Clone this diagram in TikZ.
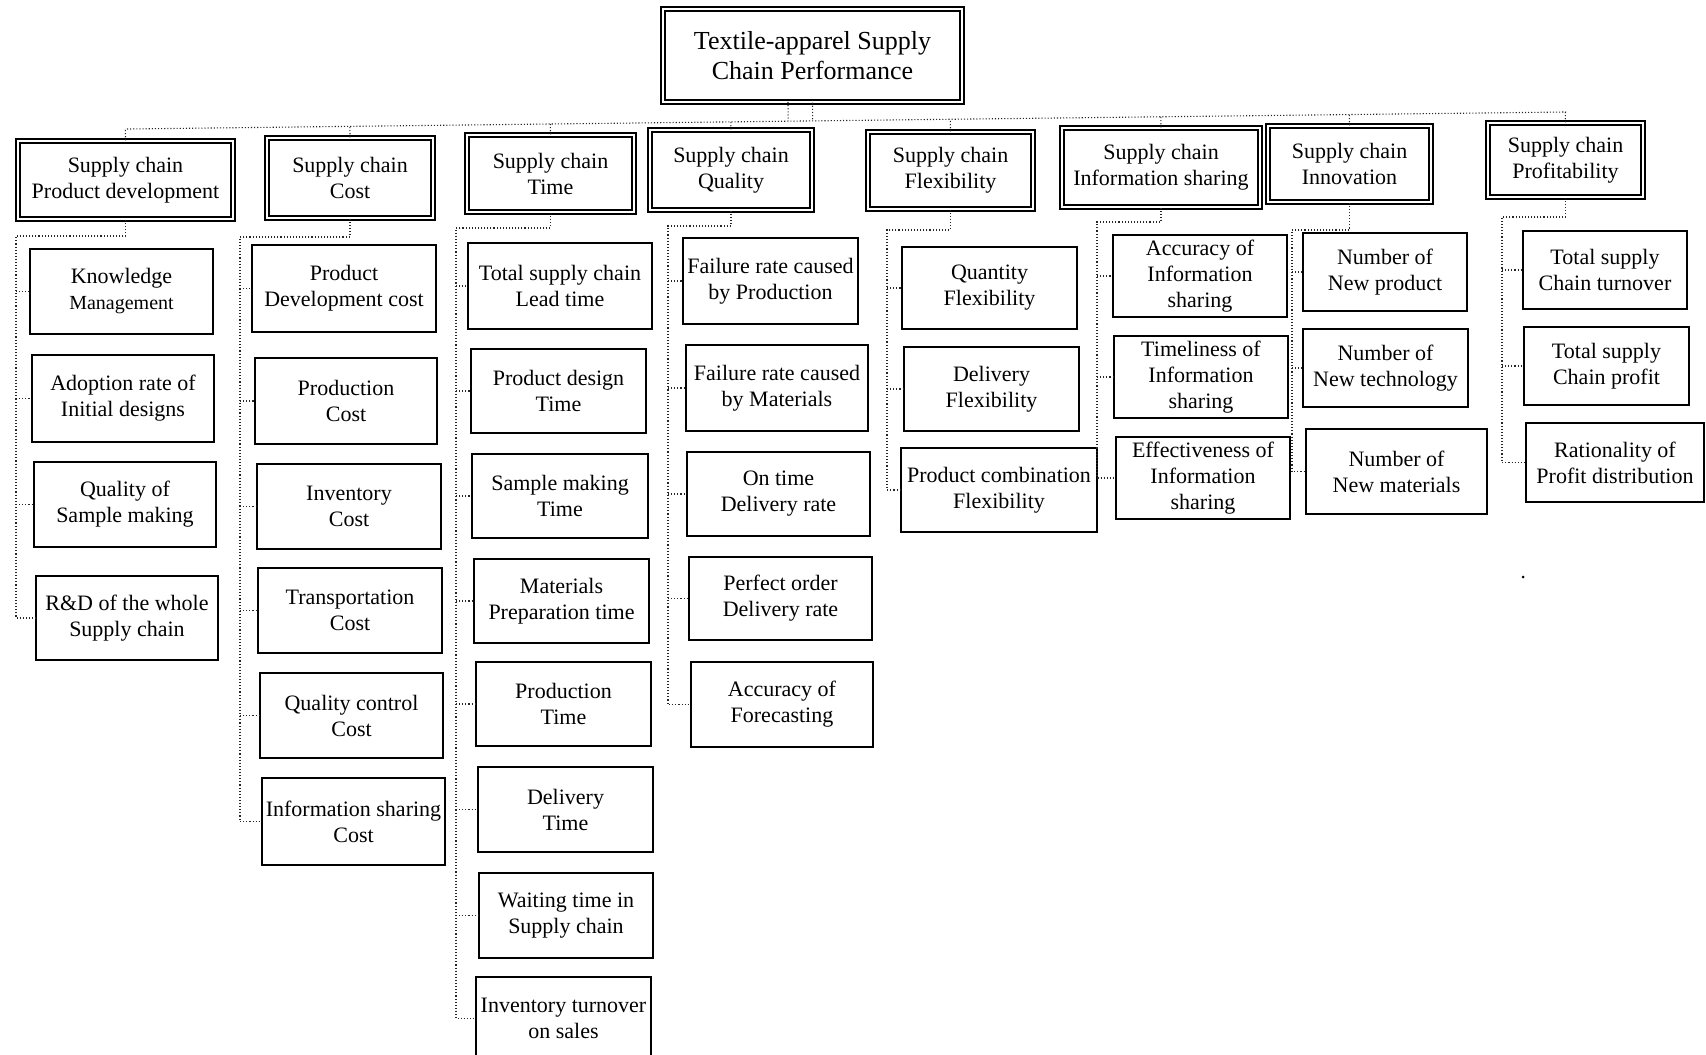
\documentclass[tikz,border=0pt]{standalone}
\usepackage{fontspec}
\setmainfont{Liberation Serif}
\usetikzlibrary{calc}

\tikzset{
  box/.style={draw=black, line width=0.8pt, fill=white, inner sep=0pt, align=center,
              font=\fontsize{11}{13}\selectfont},
  catbox/.style={box, double=white, double distance=1.3pt, line width=0.65pt},
  titlebox/.style={catbox, font=\fontsize{13}{15}\selectfont},
  conn/.style={draw=black!85, line width=0.55pt, densely dotted},
}

% \bx[style]{name}{x1}{y1}{x2}{y2}{text}: box given by its corners
\newcommand\bx[7][box]{%
  \node[#1, minimum width={(#5-#3)*0.5pt}, minimum height={(#6-#4)*0.5pt}]
    (#2) at ({(#3+#5)/2},{(#4+#6)/2}) {#7};}

\begin{document}
\begin{tikzpicture}[x=0.5pt, y=-0.5pt]
\useasboundingbox (0,0) rectangle (1706,1054);
\clip (0,0) rectangle (1706,1054);
\fill[white] (0,0) rectangle (1706,1054);

% root
\bx[titlebox]{top}{663}{9}{962}{102}{Textile-apparel Supply\\Chain Performance}

% dimensions
\bx[catbox]{pd}{18}{141}{233}{219}{Supply chain\\Product development}
\bx[catbox]{cost}{267}{138}{433}{218}{Supply chain\\Cost}
\bx[catbox]{time}{467}{135}{634}{212}{Supply chain\\Time}
\bx[catbox]{qual}{650}{130}{812}{210}{Supply chain\\Quality}
\bx[catbox]{flex}{868}{132}{1033}{209}{Supply chain\\Flexibility}
\bx[catbox]{info}{1062}{128}{1260}{207}{Supply chain\\Information sharing}
\bx[catbox]{innov}{1268}{126}{1431}{202}{Supply chain\\Innovation}
\bx[catbox]{prof}{1488}{123}{1643}{197}{Supply chain\\Profitability}

% product development
\bx{k1}{30}{249}{213}{334}{Knowledge\\{\fontsize{10}{12}\selectfont Management}}
\bx{k2}{32}{355}{214}{442}{Adoption rate of\\Initial designs}
\bx{k3}{34}{462}{216}{547}{Quality of\\Sample making}
\bx{k4}{36}{576}{218}{660}{R\&D of the whole\\Supply chain}

% cost
\bx{c1}{252}{245}{436}{332}{Product\\Development cost}
\bx{c2}{255}{358}{437}{444}{Production\\Cost}
\bx{c3}{257}{464}{441}{549}{Inventory\\Cost}
\bx{c4}{258}{568}{442}{653}{Transportation\\Cost}
\bx{c5}{260}{673}{443}{758}{Quality control\\Cost}
\bx{c6}{262}{778}{445}{865}{Information sharing\\Cost}

% time
\bx{t1}{468}{243}{652}{329}{Total supply chain\\Lead time}
\bx{t2}{471}{349}{646}{433}{Product design\\Time}
\bx{t3}{472}{454}{648}{538}{Sample making\\Time}
\bx{t4}{474}{559}{649}{643}{Materials\\Preparation time}
\bx{t5}{476}{662}{651}{746}{Production\\Time}
\bx{t6}{478}{767}{653}{852}{Delivery\\Time}
\bx{t7}{479}{873}{653}{958}{Waiting time in\\Supply chain}
\bx{t8}{476}{977}{651}{1060}{Inventory turnover\\on sales}

% quality
\bx{q1}{683}{238}{858}{324}{Failure rate caused\\by Production}
\bx{q2}{686}{345}{868}{431}{Failure rate caused\\by Materials}
\bx{q3}{687}{452}{870}{536}{On time\\Delivery rate}
\bx{q4}{689}{557}{872}{640}{Perfect order\\Delivery rate}
\bx{q5}{691}{662}{873}{747}{Accuracy of\\Forecasting}

% flexibility
\bx{f1}{902}{247}{1077}{329}{Quantity\\Flexibility}
\bx{f2}{904}{347}{1079}{431}{Delivery\\Flexibility}
\bx{f3}{901}{448}{1097}{532}{Product combination\\Flexibility}

% information sharing
\bx{i1}{1113}{235}{1287}{317}{Accuracy of\\Information\\sharing}
\bx{i2}{1114}{336}{1288}{418}{Timeliness of\\Information\\sharing}
\bx{i3}{1116}{437}{1290}{519}{Effectiveness of\\Information\\sharing}

% innovation
\bx{n1}{1303}{233}{1467}{311}{Number of\\New product}
\bx{n2}{1303}{329}{1468}{407}{Number of\\New technology}
\bx{n3}{1306}{429}{1487}{514}{Number of\\New materials}

% profitability
\bx{p1}{1523}{231}{1687}{309}{Total supply\\Chain turnover}
\bx{p2}{1524}{327}{1689}{405}{Total supply\\Chain profit}
\bx{p3}{1526}{423}{1704}{502}{Rationality of\\Profit distribution}

% bus from the root to the dimensions
\coordinate (busL) at (127,129);
\coordinate (busR) at (1566,112);
\coordinate (topB) at (788,102);
\draw[conn] (busL) -- (busR);
\draw[conn] (top.south) -- ($(busL)!(top.south)!(busR)$);
\draw[conn] (topB) -- ($(busL)!(topB)!(busR)$);
\foreach \c in {pd,cost,time,qual,flex,info,innov,prof}
  \draw[conn] (\c.north) -- ($(busL)!(\c.north)!(busR)$);

% knees of the trunks
\coordinate (pdK) at (16,236);
\coordinate (costK) at (240,237);
\coordinate (timeK) at (456,228);
\coordinate (qualK) at (668,226);
\coordinate (flexK) at (887,230);
\coordinate (infoK) at (1097,222);
\coordinate (innovK) at (1292,230);
\coordinate (profK) at (1502,217);

% trunks, ending at the last child
\draw[conn] (pd.south) |- (pdK) |- (k4.west);
\draw[conn] (cost.south) |- (costK) |- (c6.west);
\draw[conn] (time.south) |- (timeK) |- (t8.west);
\draw[conn] (qual.south) |- (qualK) |- (q5.west);
\draw[conn] (flex.south) |- (flexK) |- (f3.west);
\draw[conn] (info.south) |- (infoK) |- (i3.west);
\draw[conn] (innov.south) |- (innovK) |- (n3.west);
\draw[conn] (prof.south) |- (profK) |- (p3.west);

% stubs to the other children
\foreach \c in {k1,k2,k3} \draw[conn] (pdK |- \c.west) -- (\c.west);
\foreach \c in {c1,c2,c3,c4,c5} \draw[conn] (costK |- \c.west) -- (\c.west);
\foreach \c in {t1,t2,t3,t4,t5,t6,t7} \draw[conn] (timeK |- \c.west) -- (\c.west);
\foreach \c in {q1,q2,q3,q4} \draw[conn] (qualK |- \c.west) -- (\c.west);
\foreach \c in {f1,f2} \draw[conn] (flexK |- \c.west) -- (\c.west);
\foreach \c in {i1,i2} \draw[conn] (infoK |- \c.west) -- (\c.west);
\foreach \c in {n1,n2} \draw[conn] (innovK |- \c.west) -- (\c.west);
\foreach \c in {p1,p2} \draw[conn] (profK |- \c.west) -- (\c.west);

% speck
\fill[black] (1523,577) circle (1.5);
\end{tikzpicture}
\end{document}
